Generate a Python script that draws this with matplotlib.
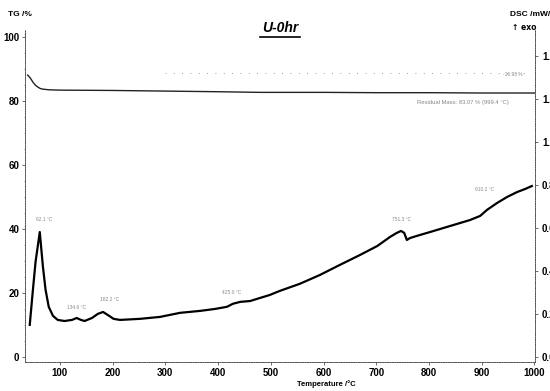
import numpy as np
import matplotlib
matplotlib.use('Agg')
import matplotlib.pyplot as plt
from matplotlib.lines import Line2D
from matplotlib.ticker import MultipleLocator

plt.rcParams['font.family'] = ['Liberation Sans', 'DejaVu Sans']

# dados
temp_tg = [39, 44, 49, 54, 58, 63, 68, 80, 100, 200, 300, 400, 480, 600, 700, 800, 900, 1000]
tg = [88.1, 87.2, 85.9, 84.9, 84.4, 83.9, 83.7, 83.5, 83.4, 83.3, 83.1, 82.9, 82.7, 82.7, 82.6, 82.6, 82.5, 82.5]

temp_dsc = [43, 49, 54, 62, 68, 73, 79, 87, 96, 109, 123, 132, 140, 147, 161, 172, 182, 191,
            202, 214, 252, 290, 328, 366, 394, 417, 428, 442, 461, 474, 498, 517, 555, 593,
            631, 669, 702, 726, 739, 747, 753, 758, 764, 777, 802, 840, 878, 897, 910, 929,
            948, 967, 982, 995]
dsc = [0.149, 0.312, 0.442, 0.581, 0.419, 0.312, 0.233, 0.191, 0.172, 0.167, 0.172, 0.181,
       0.172, 0.167, 0.181, 0.200, 0.209, 0.195, 0.177, 0.172, 0.177, 0.186, 0.205, 0.214,
       0.223, 0.233, 0.247, 0.256, 0.260, 0.270, 0.288, 0.307, 0.340, 0.381, 0.428, 0.474,
       0.516, 0.558, 0.577, 0.586, 0.577, 0.544, 0.553, 0.563, 0.581, 0.609, 0.637, 0.656,
       0.684, 0.716, 0.744, 0.767, 0.781, 0.795]

# rótulos dos picos (temperatura, valor DSC)
pico_txt = ['62.1 °C', '134.6 °C', '182.2 °C', '425.0 °C', '751.3 °C', '910.2 °C']
pico_t = [71, 132, 195, 426, 747, 906]
pico_v = [0.637, 0.228, 0.265, 0.298, 0.637, 0.777]

x_ticks = [100, 200, 300, 400, 500, 600, 700, 800, 900, 1000]
tg_ticks = [0, 20, 40, 60, 80, 100]
dsc_ticks = [0.0, 0.2, 0.4, 0.6, 0.8, 1.0, 1.2, 1.4]

escala = 3.2 / 215.0  # DSC por unidade de TG

fig = plt.figure(figsize=(5.5, 3.91), dpi=100)
ax = fig.add_axes([25 / 550, 1 - 362 / 391, 510 / 550, 332 / 391])
ax2 = ax.twinx()

ylim = (-1.6, 102.2)
ax.set_xlim(34, 1001)
ax.set_ylim(*ylim)
ax2.set_ylim(ylim[0] * escala, ylim[1] * escala)

# curva TG
ax.plot(temp_tg, tg, color='#222222', lw=1.0)
# linha auxiliar pontilhada
ax.plot([300, 985], [88.8, 88.8], color='#777777', lw=0.6, ls=(0, (1, 9)))

# curva DSC
ax2.plot(temp_dsc, dsc, color='black', lw=1.6)

for txt, t, v in zip(pico_txt, pico_t, pico_v):
    ax2.text(t, v, txt, fontsize=3.5, color='#888888', ha='center', va='center')

ax.text(958, 88.3, '-16.93 %', fontsize=3.5, color='#888888', ha='center', va='center')
ax.text(864, 79.4, 'Residual Mass: 83.07 % (999.4 °C)', fontsize=4.2, color='#888888',
        ha='center', va='center')

for a in (ax, ax2):
    for s in a.spines.values():
        s.set_linestyle((0, (1, 1.5)))
        s.set_linewidth(0.7)
        s.set_color('#555555')
    a.spines['top'].set_visible(False)

ax.set_xticks(x_ticks)
ax.set_yticks(tg_ticks)
ax.yaxis.set_minor_locator(MultipleLocator(5))
ax2.set_yticks(dsc_ticks)
ax2.set_yticklabels([f'{v:.1f}' for v in dsc_ticks])
ax.tick_params(axis='both', labelsize=7, length=2, width=0.6, color='#555555', pad=2)
ax.tick_params(axis='y', which='minor', length=1, width=0.5, color='#777777')
ax2.tick_params(axis='y', labelsize=7, length=2, width=0.6, color='#555555', pad=3)
for lab in ax.get_xticklabels() + ax.get_yticklabels() + ax2.get_yticklabels():
    lab.set_fontweight('bold')

ax.set_xlabel('Temperature /°C', fontsize=5.5, fontweight='bold', labelpad=1)
ax.xaxis.set_label_coords(0.59, -0.055)

fig.text(8 / 550, 1 - 15 / 391, 'TG /%', fontsize=6, fontweight='bold', va='center')
fig.text(510 / 550, 1 - 15 / 391, 'DSC /mW/mg', fontsize=6, fontweight='bold', va='center')
fig.text(512 / 550, 1 - 28 / 391, '↑ exo', fontsize=5.5, fontweight='bold', va='center',
         family=['DejaVu Sans'])

fig.text(280 / 550, 1 - 28 / 391, 'U-0hr', fontsize=10, fontweight='bold', style='italic',
         ha='center', va='center')
fig.add_artist(Line2D([260 / 550, 300 / 550], [1 - 37 / 391, 1 - 37 / 391],
                      color='black', lw=1.2, transform=fig.transFigure))

plt.savefig('out.png', dpi=100)
